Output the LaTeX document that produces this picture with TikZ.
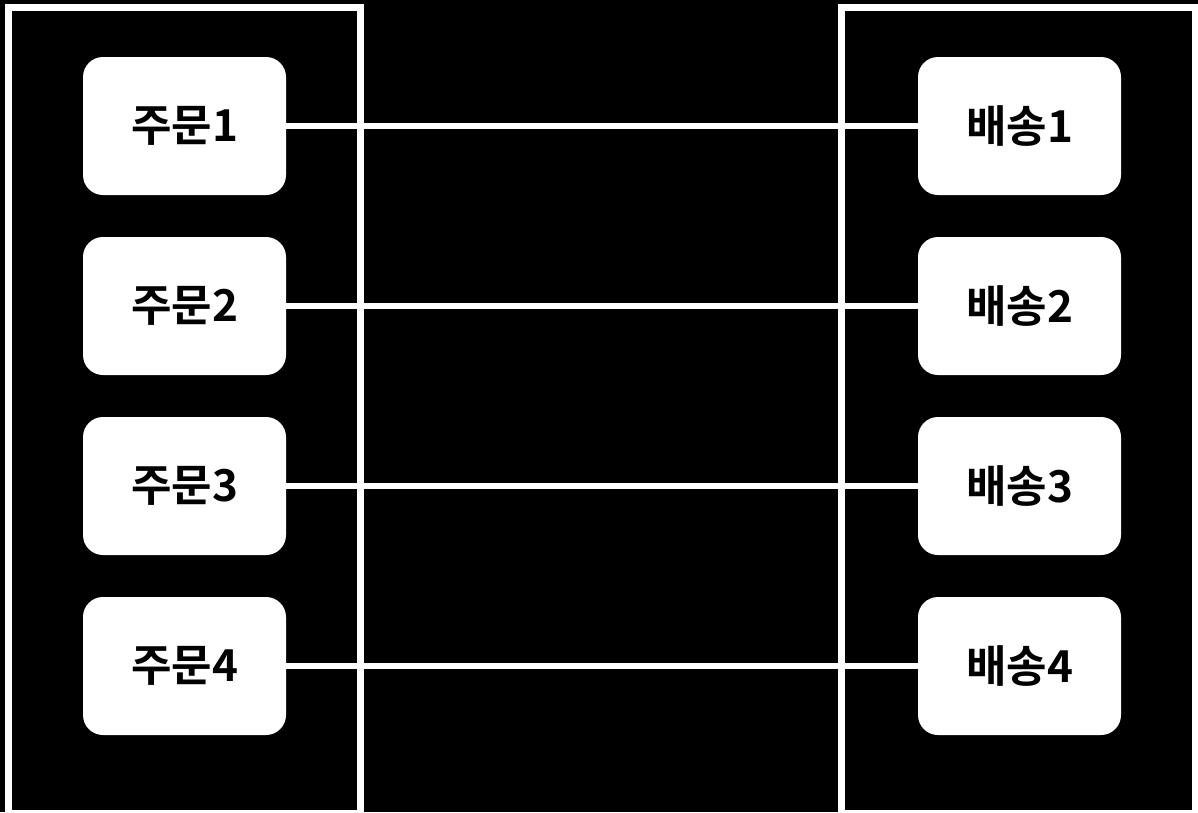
\documentclass[tikz,border=0pt]{standalone}
\usepackage{fontspec}
\newfontfamily\krfont{Noto Sans CJK KR}[BoldFont={Noto Sans CJK KR Bold}]
\tikzset{every picture/.style={line width=0.9pt}}
\tikzset{
  itembox/.style={draw=none, fill=white, rounded corners=20pt, minimum width=203pt,
    minimum height=138pt, inner sep=0pt, font=\krfont\bfseries\fontsize{44}{44}\selectfont},
  groupframe/.style={draw=white, line width=6.5pt},
  linkline/.style={draw=white, line width=5.5pt}
}

\begin{document}
\begin{tikzpicture}[x=1pt,y=1pt,yscale=-1]
%Background
\fill [black] (0,0) rectangle (1198,812);
\useasboundingbox (0,0) rectangle (1198,812);
%Group frames
\draw [groupframe] (8.5,7.5) rectangle (360.5,813);
\draw [groupframe] (841.5,7.5) rectangle (1195,813);
% Order Nodes
\node [itembox] (order1) at (184.5,126) {주문1};
\node [itembox] (order2) at (184.5,306) {주문2};
\node [itembox] (order3) at (184.5,486) {주문3};
\node [itembox] (order4) at (184.5,666) {주문4};
% Delivery Nodes
\node [itembox] (ship1) at (1019.5,126) {배송1};
\node [itembox] (ship2) at (1019.5,306) {배송2};
\node [itembox] (ship3) at (1019.5,486) {배송3};
\node [itembox] (ship4) at (1019.5,666) {배송4};
%Straight Lines
\foreach \i in {1,...,4}
  \draw [linkline] (order\i.east) -- (ship\i.west);
\end{tikzpicture}
\end{document}
